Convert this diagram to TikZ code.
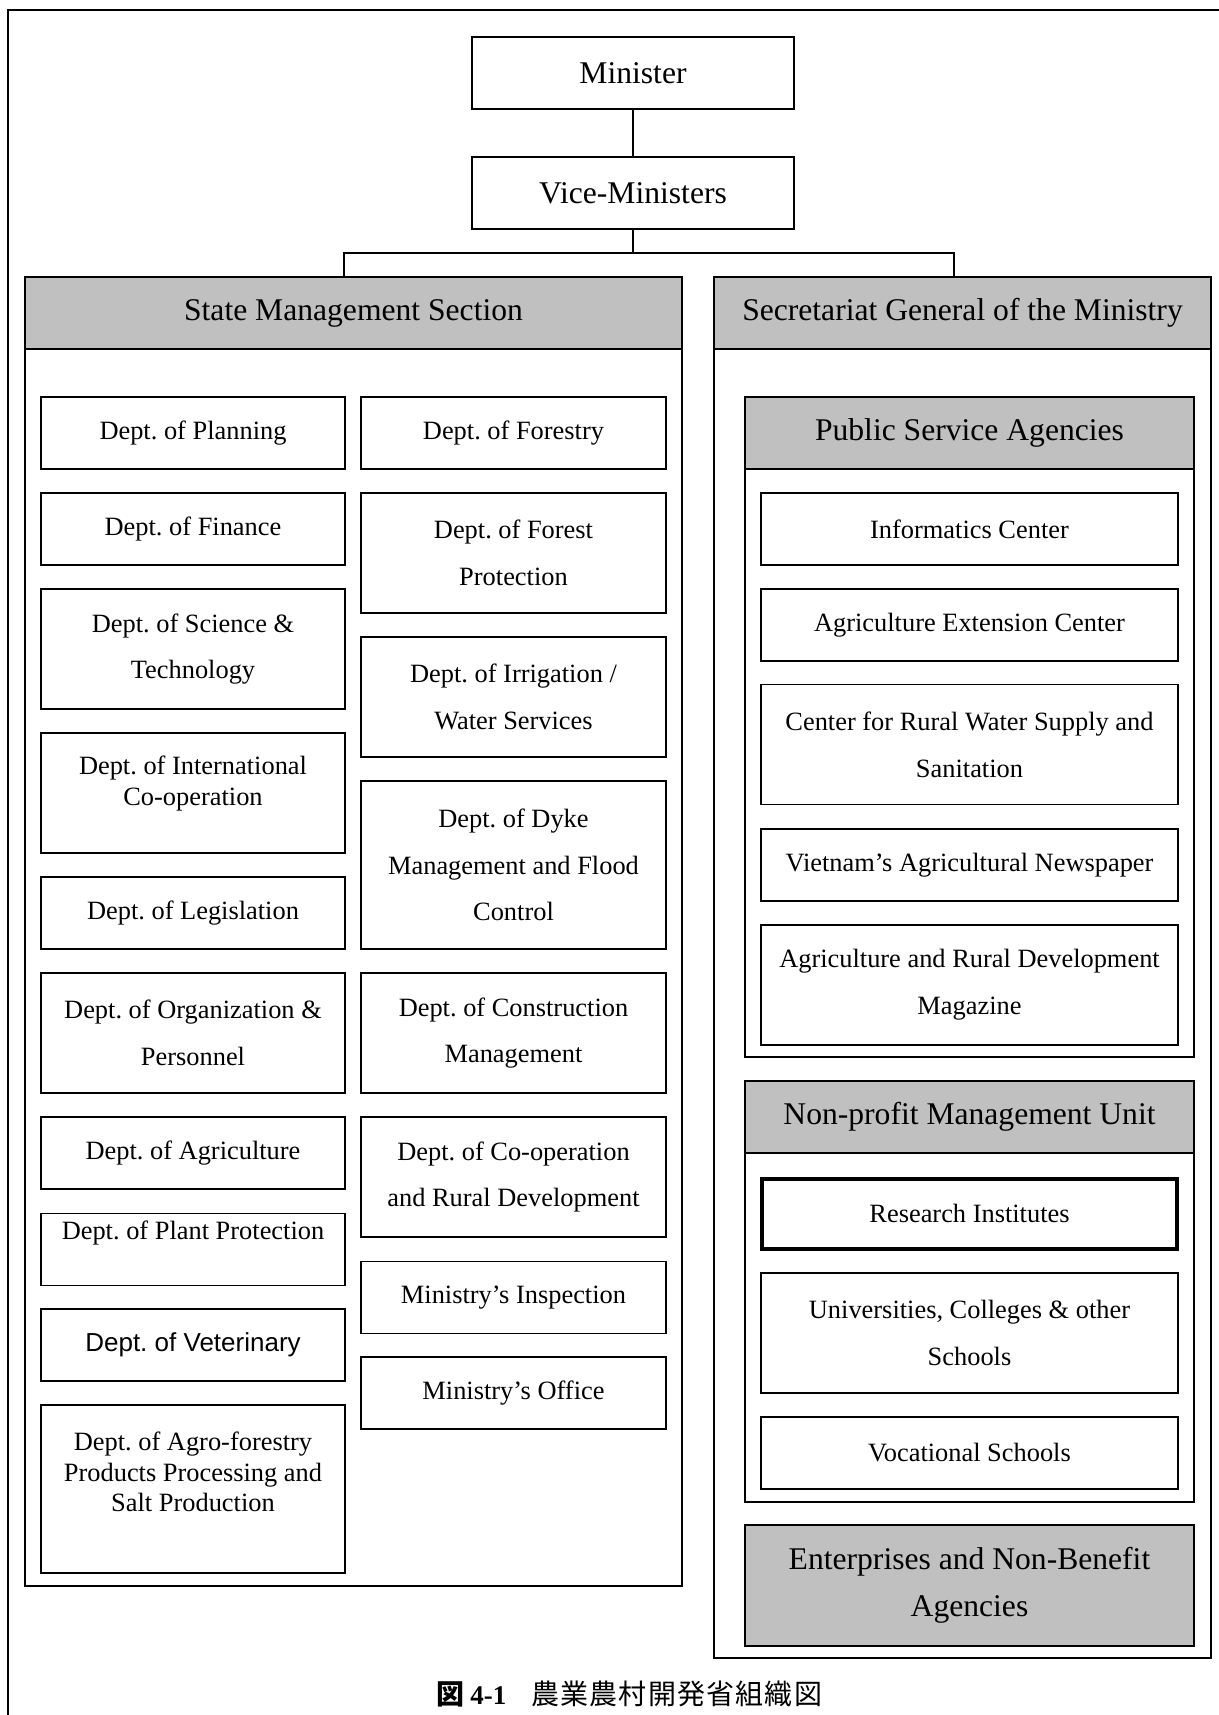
\documentclass[tikz,border=0pt]{standalone}
\usepackage{fontspec}
\setmainfont{Liberation Serif}
\newfontfamily\arialfont{Liberation Sans}
\newfontfamily\cjkfont{Noto Sans CJK JP}
\definecolor{headgray}{RGB}{192,192,192}
\newcommand\bodysize{\fontsize{13.2}{23.4}\selectfont}
\newcommand\tightsize{\fontsize{13.2}{15.4}\selectfont}
\newcommand\headsize{\fontsize{15.8}{23.4}\selectfont}
\newcommand\captionsize{\fontsize{13.5}{16}\selectfont}
\newcommand\cjksize{\fontsize{14}{16}\selectfont}
\newcommand\cjkgap{\hspace{0.6pt}}

\begin{document}
\frenchspacing
\begin{tikzpicture}[x=0.5pt,y=-0.5pt,
  outline/.style={draw, line width=0.8pt, inner sep=0pt},
  unit/.style={outline, align=center, font=\bodysize},
  headbox/.style={outline, fill=headgray, align=center, font=\headsize},
  topbox/.style={outline, align=center, font=\headsize, minimum width=161pt, minimum height=36pt},
  colL/.style={unit, minimum width=152pt},
  colR/.style={unit, minimum width=152.5pt},
  agency/.style={unit, minimum width=208.5pt},
  h1/.style={minimum height=36pt},
  h2/.style={minimum height=60pt},
  h3/.style={minimum height=84pt},
  boxtext/.style={inner sep=0pt, align=center, font=\tightsize},
  link/.style={line width=0.8pt}
]
\useasboundingbox (0,0) rectangle (1219,1715);

% page frame (runs off the right and bottom edges)
\draw[line width=1pt] (8,1760) -- (8,10) -- (1260,10);

% top of the hierarchy
\node[topbox] (minister) at (633,73) {Minister};
\node[topbox] (vice) at (633,193) {Vice-Ministers};

% the two main sections
\node[outline, minimum width=328.5pt, minimum height=654.5pt] (sms) at (353.5,931.5) {};
\node[headbox, minimum width=328.5pt, minimum height=36pt] (smshead) at (353.5,313) {State Management Section};
\node[outline, minimum width=248.5pt, minimum height=690.5pt] (sg) at (962.5,967.5) {};
\node[headbox, minimum width=248.5pt, minimum height=36pt] (sghead) at (962.5,313) {Secretariat General of the Ministry};

% connectors
\coordinate (busL) at (344,253);
\coordinate (busR) at (954,253);
\draw[link] (minister.south) -- (vice.north);
\draw[link] (vice.south) -- (vice.south |- busL);
\draw[link] (busL |- smshead.north) -- (busL) -- (busR) -- (busR |- sghead.north);

% State Management Section, left column
\node[colL, h1] (planning) at (193,433) {Dept. of Planning};
\node[colL, h1] (finance) at (193,529) {Dept. of Finance};
\node[colL, h2] (science) at (193,649) {Dept. of Science \&\\Technology};
\node[colL, h2] (intl) at (193,793) {};
\node[boxtext] (intltext) at (193,783.5) {Dept. of International\\Co-operation};
\node[colL, h1] (legis) at (193,913) {Dept. of Legislation};
\node[colL, h2] (org) at (193,1033) {Dept. of Organization \&\\Personnel};
\node[colL, h1] (agri) at (193,1153) {Dept. of Agriculture};
\node[colL, h1] (plant) at (193,1249.5) {};
\node[boxtext] (planttext) at (193,1233) {Dept. of Plant Protection};
\node[colL, h1, font=\arialfont\fontsize{13}{16}\selectfont] (vet) at (193,1345) {Dept. of Veterinary};
\node[colL, h3] (agro) at (193,1489) {};
\node[boxtext] (agrotext) at (193,1472) {Dept. of Agro-forestry\\Products Processing and\\Salt Production};

% State Management Section, right column
\node[colR, h1] (forestry) at (513.5,433) {Dept. of Forestry};
\node[colR, h2] (forestprot) at (513.5,553) {Dept. of Forest\\Protection};
\node[colR, h2] (irrig) at (513.5,697) {Dept. of Irrigation /\\Water Services};
\node[colR, h3] (dyke) at (513.5,865) {Dept. of Dyke\\Management and Flood\\Control};
\node[colR, h2] (constr) at (513.5,1033) {Dept. of Construction\\Management};
\node[colR, h2] (coop) at (513.5,1177) {Dept. of Co-operation\\and Rural Development};
\node[colR, h1] (insp) at (513.5,1297.5) {Ministry’s Inspection};
\node[colR, h1] (office) at (513.5,1393) {Ministry’s Office};

% Public Service Agencies
\node[outline, minimum width=224.5pt, minimum height=330pt] (psa) at (969.5,727) {};
\node[headbox, minimum width=224.5pt, minimum height=36pt] (psahead) at (969.5,433) {Public Service Agencies};
\node[agency, h1] (informatics) at (969.5,529) {Informatics Center};
\node[agency, h1] (extension) at (969.5,625) {Agriculture Extension Center};
\node[agency, h2] (water) at (969.5,744.5) {Center for Rural Water Supply and\\Sanitation};
\node[agency, h1] (news) at (969.5,865) {Vietnam’s Agricultural Newspaper};
\node[agency, h2] (magazine) at (969.5,985) {Agriculture and Rural Development\\Magazine};

% Non-profit Management Unit
\node[outline, minimum width=224.5pt, minimum height=210.5pt] (npmu) at (969.5,1291.5) {};
\node[headbox, minimum width=224.5pt, minimum height=36pt] (npmuhead) at (969.5,1117) {Non-profit Management Unit};
\node[agency, line width=2pt, minimum width=207.5pt, minimum height=35pt] (research) at (969.5,1213.5) {Research Institutes};
\node[agency, h2] (univ) at (969.5,1333) {Universities, Colleges \& other\\Schools};
\node[agency, h1] (voc) at (969.5,1453) {Vocational Schools};

% Enterprises
\node[headbox, minimum width=224.5pt, minimum height=60.5pt] (enterprises) at (969.5,1585.5) {Enterprises and Non-Benefit\\Agencies};

% caption
\node[anchor=west, inner sep=0pt, font=\bfseries\captionsize] (figno) at (436,1694) {{\cjkfont\cjksize 図}\hspace{3pt}4-1};
\node[anchor=west, inner sep=0pt, font=\cjkfont\cjksize] (figtitle) at (531,1694) {農\cjkgap 業\cjkgap 農\cjkgap 村\cjkgap 開\cjkgap 発\cjkgap 省\cjkgap 組\cjkgap 織\cjkgap 図};
\end{tikzpicture}
\end{document}
